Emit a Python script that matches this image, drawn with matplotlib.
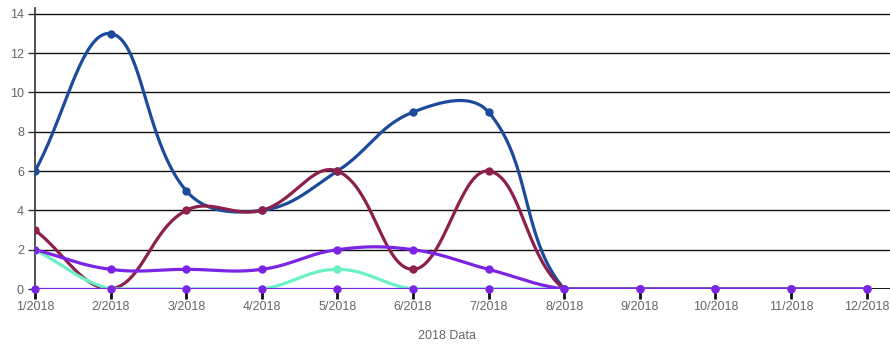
import numpy as np
import matplotlib
matplotlib.use("Agg")
import matplotlib.pyplot as plt

plt.rcParams['font.family'] = ['Liberation Sans', 'DejaVu Sans']

months = ["1/2018", "2/2018", "3/2018", "4/2018", "5/2018", "6/2018",
          "7/2018", "8/2018", "9/2018", "10/2018", "11/2018", "12/2018"]
series_blue = [6, 13, 5, 4, 6, 9, 9, 0, 0, 0, 0, 0]
series_maroon = [3, 0, 4, 4, 6, 1, 6, 0, 0, 0, 0, 0]
series_teal = [2, 0, 0, 0, 1, 0, 0, 0, 0, 0, 0, 0]
series_purple = [2, 1, 1, 1, 2, 2, 1, 0, 0, 0, 0, 0]
series_zero = [0, 0, 0, 0, 0, 0, 0, 0, 0, 0, 0, 0]
y_ticks = [0, 2, 4, 6, 8, 10, 12, 14]

# pixel sizes of one x step and one y unit, used for the spline geometry
PX_X = 75.6
PX_Y = 19.64
TENSION = 0.4


def spline(values, ymin=0.0, ymax=14.0, steps=40):
    """Tension spline through the points, with control points kept inside the plot."""
    n = len(values)
    pts = np.column_stack([np.arange(n) * PX_X, np.asarray(values, float) * PX_Y])
    c_prev = pts.copy()
    c_next = pts.copy()
    for i in range(n):
        prev = pts[i - 1] if i > 0 else pts[i]
        nxt = pts[i + 1] if i < n - 1 else pts[i]
        d01 = np.hypot(*(pts[i] - prev))
        d12 = np.hypot(*(nxt - pts[i]))
        tot = d01 + d12
        s01 = d01 / tot if tot else 0.0
        s12 = d12 / tot if tot else 0.0
        c_prev[i] = pts[i] - TENSION * s01 * (nxt - prev)
        c_next[i] = pts[i] + TENSION * s12 * (nxt - prev)
    lo, hi = ymin * PX_Y, ymax * PX_Y
    for c in (c_prev, c_next):
        c[:, 1] = np.clip(c[:, 1], lo, hi)
        c[:, 0] = np.clip(c[:, 0], 0, (n - 1) * PX_X)
    out = []
    t = np.linspace(0, 1, steps)[:, None]
    for i in range(n - 1):
        p0, p1, p2, p3 = pts[i], c_next[i], c_prev[i + 1], pts[i + 1]
        seg = ((1 - t) ** 3) * p0 + 3 * ((1 - t) ** 2) * t * p1 \
            + 3 * (1 - t) * t ** 2 * p2 + t ** 3 * p3
        out.append(seg)
    arr = np.vstack(out)
    return arr[:, 0] / PX_X, arr[:, 1] / PX_Y


fig = plt.figure(figsize=(8.9, 3.46), dpi=100)
ax = fig.add_axes([35 / 890, (346 - 289) / 346, 1 - 35 / 890, (289 - 8) / 346])

x = np.arange(len(months))
ax.set_xlim(0, 11.31)
ax.set_ylim(0, 14.3)

for yv in y_ticks[1:]:
    ax.axhline(yv, color="#111111", lw=1.0, zorder=1)
ax.axhline(0, color="#000000", lw=2.0, zorder=1.5)

styles = [
    (series_blue, "#1c4b9c"),
    (series_maroon, "#8c1f4b"),
    (series_teal, "#6cf0c6"),
    (series_purple, "#7b24e6"),
]
for vals, col in styles:
    sx, sy = spline(vals)
    ax.plot(sx, sy, color=col, lw=2.3, zorder=3, solid_capstyle="round")
    ax.plot(x, vals, "o", color=col, ms=5, zorder=4)

ax.plot(x, series_zero, color="#7b24e6", lw=1.6, zorder=3.5)
ax.plot(x, series_zero, "o", color="#7b24e6", ms=5, zorder=4, clip_on=False)

ax.set_xticks(x)
ax.set_xticklabels(months)
ax.set_yticks(y_ticks)
ax.tick_params(axis="x", length=7, width=2, color="#111111", labelcolor="#666666",
               labelsize=9, pad=2)
ax.tick_params(axis="y", length=5, width=1, color="#333333", labelcolor="#666666",
               labelsize=9, pad=3)

for side in ["top", "right", "bottom"]:
    ax.spines[side].set_visible(False)
ax.spines["left"].set_color("#333333")
ax.spines["left"].set_linewidth(1.2)

ax.set_xlabel("2018 Data", color="#666666", fontsize=9, va="center")
ax.xaxis.set_label_coords((447 - 35) / 855, -(336 - 289) / 281)

fig.savefig("out.png", dpi=100, facecolor="white")
